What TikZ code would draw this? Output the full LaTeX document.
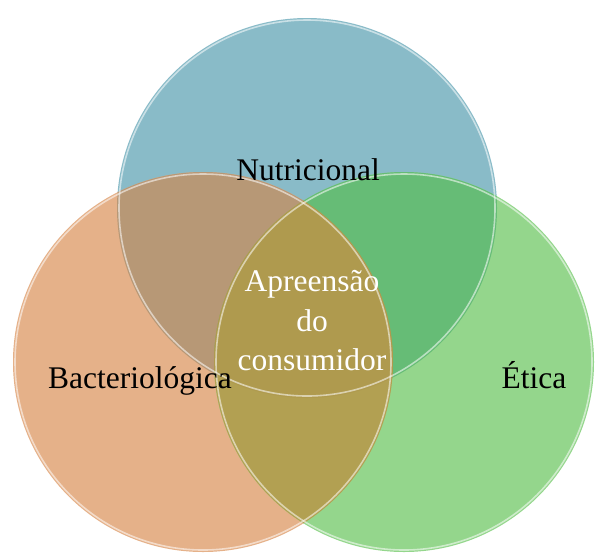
\documentclass[tikz,border=0pt]{standalone}
\usepackage{fontspec}
\setmainfont{Liberation Serif}
\definecolor{NutBlue}{RGB}{137,187,200}
\definecolor{BacOrange}{RGB}{229,177,137}
\definecolor{EtiGreen}{RGB}{148,214,140}
\definecolor{NutBac}{RGB}{183,152,118}
\definecolor{NutEti}{RGB}{102,188,118}
\definecolor{BacEti}{RGB}{178,160,82}
\definecolor{AllThree}{RGB}{175,154,78}

\begin{document}
\begin{tikzpicture}[x=1pt, y=-1pt,
  lbl/.style={font=\fontsize{31.5}{39.5}\selectfont, align=center, inner sep=0pt},
  rim/.style={draw=white, draw opacity=0.55, line width=1.6pt}]
  \useasboundingbox (0,0) rectangle (599,558);
  \def\rad{190pt}

  \coordinate (cn) at (307,208);
  \coordinate (cb) at (203,362);
  \coordinate (ce) at (404,362);

  % the three sets
  \fill[NutBlue]   (cn) circle (\rad);
  \fill[BacOrange] (cb) circle (\rad);
  \fill[EtiGreen]  (ce) circle (\rad);

  % overlaps
  \begin{scope}
    \clip (cn) circle (\rad);
    \fill[NutBac] (cb) circle (\rad);
    \fill[NutEti] (ce) circle (\rad);
  \end{scope}
  \begin{scope}
    \clip (cb) circle (\rad);
    \fill[BacEti] (ce) circle (\rad);
    \clip (ce) circle (\rad);
    \fill[AllThree] (cn) circle (\rad);
  \end{scope}

  % bevel rims
  \draw[rim] (cn) circle (188pt);
  \draw[rim] (cb) circle (188pt);
  \draw[rim] (ce) circle (188pt);

  \node[lbl, anchor=base] (nut) at (308,180) {Nutricional};
  \node[lbl, anchor=base] (bac) at (140,388) {Bacteriológica};
  \node[lbl, anchor=base] (eti) at (534,388) {Ética};
  \node[lbl, text=white] (apr) at (312,321) {Apreensão\\do\\consumidor};
\end{tikzpicture}
\end{document}
